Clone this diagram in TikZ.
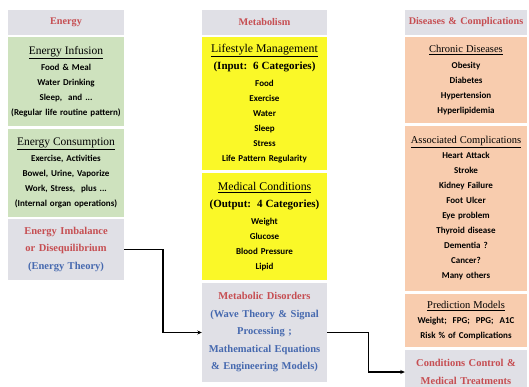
\documentclass[tikz,border=0pt]{standalone}
\usepackage{fontspec}
\setmainfont{Liberation Serif}
\setsansfont{Carlito}
\usepackage{xcolor}
\usetikzlibrary{calc,arrows.meta}

\definecolor{headgray}{RGB}{224,224,230}
\definecolor{headred}{RGB}{198,78,82}
\definecolor{txtblue}{RGB}{70,105,175}
\definecolor{greenbox}{RGB}{206,226,190}
\definecolor{yellowbox}{RGB}{250,248,40}
\definecolor{peachbox}{RGB}{248,204,174}

\newcommand{\subhead}[2][11.5]{{\rmfamily\mdseries\fontsize{#1}{13}\selectfont\underline{#2}}}

\begin{document}
\begin{tikzpicture}[x=1pt, y=-1pt,
    head/.style={fill=headgray, minimum height=25pt, inner sep=0pt, text=headred, align=center,
        font=\rmfamily\bfseries\fontsize{10.2}{12}\selectfont},
    panel/.style={minimum height=#1, inner sep=0pt, align=center,
        font=\sffamily\bfseries\fontsize{9}{15}\selectfont},
    leftcol/.style={minimum width=116pt, text width=114pt},
    midcol/.style={minimum width=125pt, text width=123pt},
    rightcol/.style={minimum width=122pt, text width=120pt},
    theory/.style={fill=headgray, inner sep=0pt, align=center,
        font=\rmfamily\bfseries\fontsize{10.5}{17.5}\selectfont},
    link/.style={-{Stealth[length=4.5pt,width=4pt]}, line width=1.1pt}
]
    \useasboundingbox (0,0) rectangle (529,387);

    % Energy column
    \node[head, leftcol] (energy) at (66,22.5) {Energy};
    \node[panel=89pt, leftcol, fill=greenbox] (infusion) at (66,81.5)
        {\subhead{Energy Infusion}\\[1pt] Food \& Meal\\ Water Drinking\\ Sleep,\ \ and ...\\ (Regular life routine pattern)};
    \node[panel=88pt, leftcol, fill=greenbox] (consumption) at (66,173)
        {\subhead{Energy Consumption}\\[1pt] Exercise, Activities\\ Bowel, Urine, Vaporize\\ Work, Stress,\ \ plus ...\\ (Internal organ operations)};
    \node[theory, leftcol, minimum height=61pt] (imbalance) at (66,249.5)
        {\textcolor{headred}{Energy Imbalance}\\ \textcolor{headred}{or Disequilibrium}\\ \textcolor{txtblue}{(Energy Theory)}};

    % Metabolism column
    \node[head, midcol] (metab) at (264.5,22.5) {Metabolism};
    \node[panel=133pt, midcol, fill=yellowbox] (lifestyle) at (264.5,103.5)
        {\subhead[11.8]{Lifestyle Management}\\[2pt]
         {\rmfamily\fontsize{11}{13}\selectfont (Input:\ \ 6 Categories)}\\[2pt]
         Food\\ Exercise\\ Water\\ Sleep\\ Stress\\ Life Pattern Regularity};
    \node[panel=107pt, midcol, fill=yellowbox] (medcond) at (264.5,226.5)
        {\subhead[11.8]{Medical Conditions}\\[2pt]
         {\rmfamily\fontsize{11}{13}\selectfont (Output:\ \ 4 Categories)}\\[2pt]
         Weight\\ Glucose\\ Blood Pressure\\ Lipid};
    \node[theory, midcol, minimum height=99pt] (disorders) at (264.5,332.5)
        {\textcolor{headred}{Metabolic Disorders}\\ \color{txtblue}(Wave Theory \& Signal\\ Processing ;\\ Mathematical Equations\\ \& Engineering Models)};

    % Diseases column
    \node[head, rightcol] (diseases) at (466,22.5) {Diseases \& Complications};
    \node[panel=86pt, rightcol, fill=peachbox] (chronic) at (466,80)
        {\subhead[10.5]{Chronic Diseases}\\[1pt] Obesity\\ Diabetes\\ Hypertension\\ Hyperlipidemia};
    \node[panel=165pt, rightcol, fill=peachbox] (assoc) at (466,208.5)
        {\subhead[10.5]{Associated Complications}\\ Heart Attack\\ Stroke\\ Kidney Failure\\ Foot Ulcer\\ Eye problem\\ Thyroid disease\\ Dementia ?\\ Cancer?\\ Many others};
    \node[panel=53pt, rightcol, fill=peachbox] (predict) at (466,320.5)
        {\subhead[10.5]{Prediction Models}\\ Weight;\ \ FPG;\ \ PPG;\ \ A1C\\ Risk \% of Complications};
    \node[theory, rightcol, minimum height=44pt] (control) at (466,372)
        {\textcolor{headred}{Conditions Control \&}\\ \textcolor{headred}{Medical Treatments}};

    % Connections
    \draw[link] (imbalance.east) -| ($(imbalance.east)!0.5!(disorders.west)$) |- (disorders.west);
    \draw[link] (disorders.east) -| ($(disorders.east)!0.53!(control.west)$) |- (control.west);
\end{tikzpicture}
\end{document}
